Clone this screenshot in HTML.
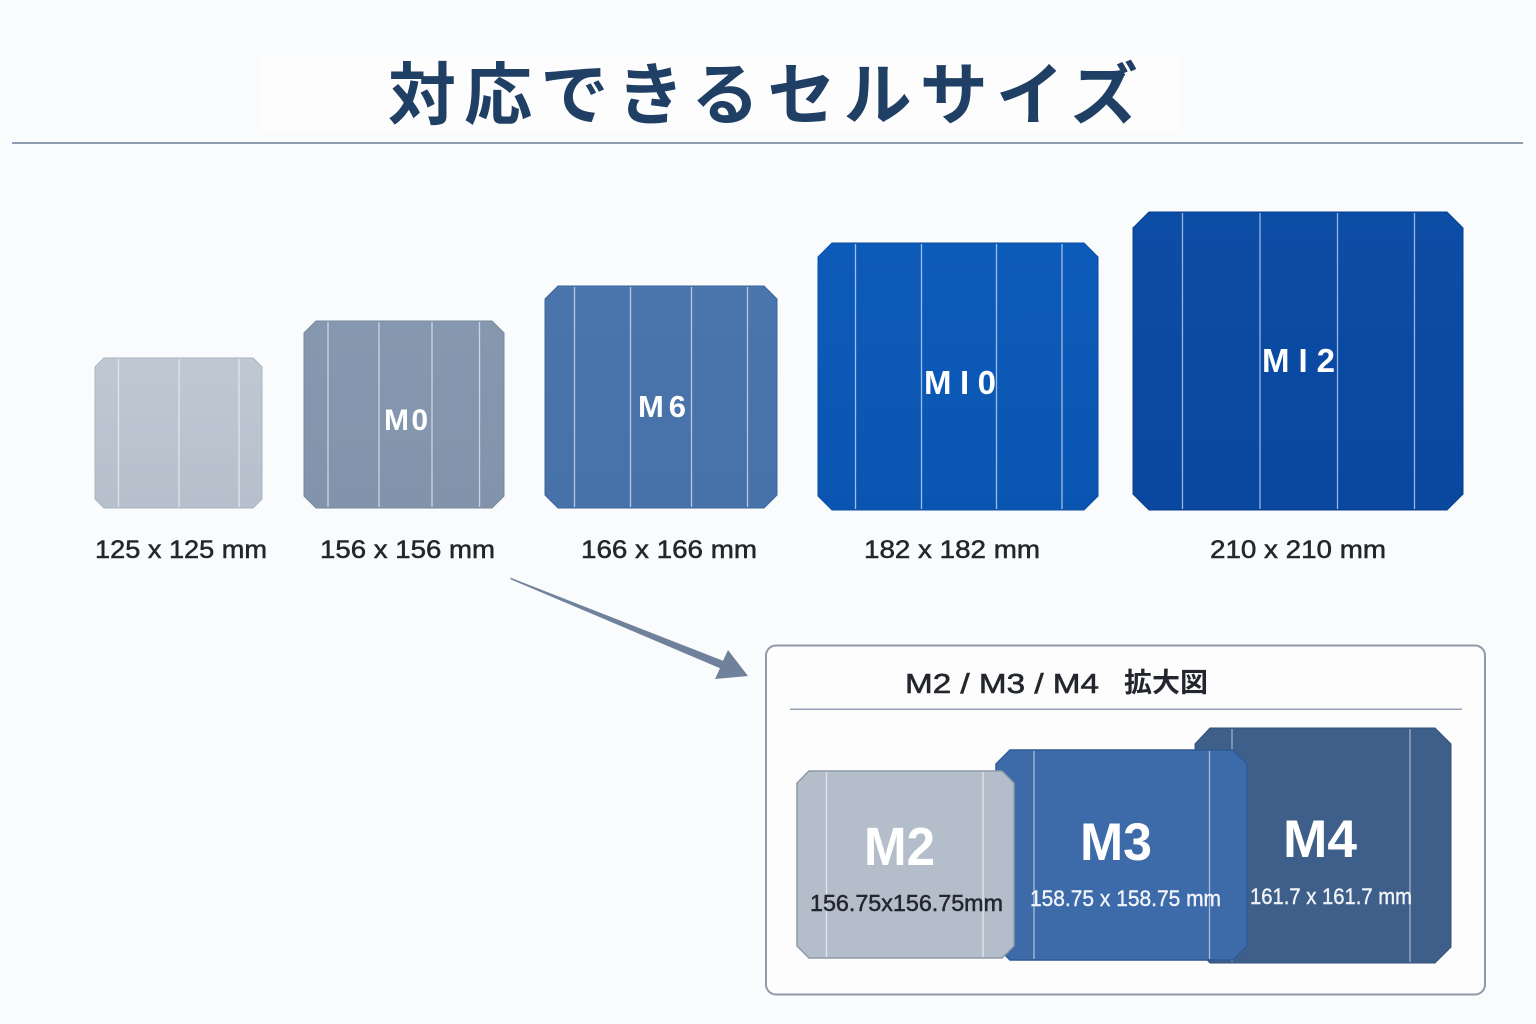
<!DOCTYPE html>
<html><head><meta charset="utf-8"><style>
html,body{margin:0;padding:0;background:#fafbfc;}
svg{display:block;}
</style></head><body>
<svg width="1536" height="1024" viewBox="0 0 1536 1024" xmlns="http://www.w3.org/2000/svg">
<defs>
<linearGradient id="g1" x1="0" y1="0" x2="0" y2="1"><stop offset="0" stop-color="#bfc8d3"/><stop offset="1" stop-color="#b6c0cc"/></linearGradient>
<linearGradient id="g2" x1="0" y1="0" x2="0" y2="1"><stop offset="0" stop-color="#8698af"/><stop offset="1" stop-color="#8194ab"/></linearGradient>
<linearGradient id="g3" x1="0" y1="0" x2="0" y2="1"><stop offset="0" stop-color="#4a75ac"/><stop offset="1" stop-color="#4671a9"/></linearGradient>
<linearGradient id="g4" x1="0" y1="0" x2="0" y2="1"><stop offset="0" stop-color="#0d5bb9"/><stop offset="1" stop-color="#0a55b2"/></linearGradient>
<linearGradient id="g5" x1="0" y1="0" x2="0" y2="1"><stop offset="0" stop-color="#0c4da6"/><stop offset="1" stop-color="#0a479f"/></linearGradient>
</defs>
<rect width="1536" height="1024" fill="#fafbfc"/>
<rect x="260" y="55" width="920" height="75" fill="#fdfdfd"/>

<!-- Title -->
<text x="388" y="119" textLength="750" lengthAdjust="spacing" font-family="'Liberation Sans','Noto Sans CJK JP',sans-serif" font-weight="bold" font-size="68" fill="#1f3f64">対応できるセルサイズ</text>
<rect x="12" y="142" width="1511" height="2" fill="#8e9cb2"/>

<!-- Cell 1 -->
<polygon points="104,358 253,358 262,367 262,499 253,508 104,508 95,499 95,367" fill="url(#g1)" stroke="#aab4c1" stroke-width="1"/>
<g stroke="#e6ebf1" stroke-width="1.3" opacity="0.85"><line x1="118.5" y1="359" x2="118.5" y2="507"/><line x1="179" y1="359" x2="179" y2="507"/><line x1="239" y1="359" x2="239" y2="507"/></g>

<!-- M0 -->
<polygon points="316,321 492,321 504,333 504,496 492,508 316,508 304,496 304,333" fill="url(#g2)" stroke="#76879d" stroke-width="1"/>
<g stroke="#d9e0ea" stroke-width="1.3" opacity="0.85"><line x1="328" y1="322" x2="328" y2="507"/><line x1="379" y1="322" x2="379" y2="507"/><line x1="432" y1="322" x2="432" y2="507"/><line x1="479.5" y1="322" x2="479.5" y2="507"/></g>
<text x="384" y="430" textLength="44" lengthAdjust="spacing" font-family="'Liberation Sans',sans-serif" font-weight="bold" font-size="30" fill="#ffffff">M0</text>

<!-- M6 -->
<polygon points="558,286 764,286 777,299 777,495 764,508 558,508 545,495 545,299" fill="url(#g3)" stroke="#3d669c" stroke-width="1"/>
<g stroke="#c9d6ea" stroke-width="1.3" opacity="0.85"><line x1="574.5" y1="287" x2="574.5" y2="507"/><line x1="630.5" y1="287" x2="630.5" y2="507"/><line x1="691.5" y1="287" x2="691.5" y2="507"/><line x1="747.5" y1="287" x2="747.5" y2="507"/></g>
<text x="638" y="417" textLength="48" lengthAdjust="spacing" font-family="'Liberation Sans',sans-serif" font-weight="bold" font-size="31" fill="#ffffff">M6</text>

<!-- M10 -->
<polygon points="832,243 1084,243 1098,257 1098,496 1084,510 832,510 818,496 818,257" fill="url(#g4)" stroke="#094ea5" stroke-width="1"/>
<g stroke="#b9cff0" stroke-width="1.3" opacity="0.85"><line x1="855.5" y1="244" x2="855.5" y2="509"/><line x1="921.5" y1="244" x2="921.5" y2="509"/><line x1="996.5" y1="244" x2="996.5" y2="509"/><line x1="1062" y1="244" x2="1062" y2="509"/></g>
<text x="924" y="394" textLength="72" lengthAdjust="spacing" font-family="'Liberation Sans',sans-serif" font-weight="bold" font-size="33" fill="#ffffff">M I 0</text>

<!-- M12 -->
<polygon points="1149,212 1447,212 1463,228 1463,494 1447,510 1149,510 1133,494 1133,228" fill="url(#g5)" stroke="#083f90" stroke-width="1"/>
<g stroke="#b4c7ea" stroke-width="1.3" opacity="0.85"><line x1="1182.5" y1="213" x2="1182.5" y2="509"/><line x1="1260" y1="213" x2="1260" y2="509"/><line x1="1337.5" y1="213" x2="1337.5" y2="509"/><line x1="1414.5" y1="213" x2="1414.5" y2="509"/></g>
<text x="1262" y="372" textLength="73" lengthAdjust="spacing" font-family="'Liberation Sans',sans-serif" font-weight="bold" font-size="33" fill="#ffffff">M I 2</text>

<!-- size labels -->
<g font-family="'Liberation Sans',sans-serif" font-size="25" fill="#22272d" stroke="#22272d" stroke-width="0.5">
<text x="95" y="558" textLength="172" lengthAdjust="spacingAndGlyphs">125 x 125 mm</text>
<text x="320" y="558" textLength="175" lengthAdjust="spacingAndGlyphs">156 x 156 mm</text>
<text x="581" y="558" textLength="176" lengthAdjust="spacingAndGlyphs">166 x 166 mm</text>
<text x="864" y="558" textLength="176" lengthAdjust="spacingAndGlyphs">182 x 182 mm</text>
<text x="1210" y="558" textLength="176" lengthAdjust="spacingAndGlyphs">210 x 210 mm</text>
</g>

<!-- arrow -->
<polygon points="510,577.5 723,660.8 728,650 748,676 715,679 720,668.2 511,579.5" fill="#6f819b"/>

<!-- enlarged box -->
<rect x="766" y="645.5" width="719" height="349" rx="10" ry="10" fill="#fdfdfe" stroke="#8f99a8" stroke-width="2"/>
<text x="905" y="693" textLength="194" lengthAdjust="spacingAndGlyphs" font-family="'Liberation Sans',sans-serif" font-size="28" fill="#23272d" stroke="#23272d" stroke-width="0.6">M2 / M3 / M4</text>
<text x="1124" y="692" textLength="84" lengthAdjust="spacingAndGlyphs" font-family="'Liberation Sans','Noto Sans CJK JP',sans-serif" font-weight="bold" font-size="27" fill="#23272d">拡大図</text>
<rect x="790" y="708.5" width="672" height="1.5" fill="#95a2b5"/>

<!-- M4 -->
<polygon points="1210,728 1435,728 1451,744 1451,947 1435,963 1210,963 1195,947 1195,744" fill="#3e5f89" stroke="#34527a" stroke-width="1"/>
<g stroke="#b5c3d6" stroke-width="1.3" opacity="0.8"><line x1="1232" y1="729" x2="1232" y2="962"/><line x1="1410" y1="729" x2="1410" y2="962"/></g>
<text x="1283" y="857" textLength="74" lengthAdjust="spacingAndGlyphs" font-family="'Liberation Sans',sans-serif" font-weight="bold" font-size="53" fill="#ffffff">M4</text>
<text x="1250" y="904" textLength="162" lengthAdjust="spacingAndGlyphs" font-family="'Liberation Sans',sans-serif" font-size="22" fill="#f1f4f8" stroke="#f1f4f8" stroke-width="0.4">161.7 x 161.7 mm</text>

<!-- M3 -->
<polygon points="1010,750 1233,750 1247,764 1247,946 1233,960 1010,960 996,946 996,764" fill="#3d6aa8" stroke="#2f5a93" stroke-width="1.5"/>
<g stroke="#c2d1e8" stroke-width="1.3" opacity="0.8"><line x1="1034" y1="751" x2="1034" y2="959"/><line x1="1209.5" y1="751" x2="1209.5" y2="959"/></g>
<text x="1080" y="860" textLength="72" lengthAdjust="spacingAndGlyphs" font-family="'Liberation Sans',sans-serif" font-weight="bold" font-size="53" fill="#ffffff">M3</text>
<text x="1030" y="906" textLength="191" lengthAdjust="spacingAndGlyphs" font-family="'Liberation Sans',sans-serif" font-size="22" fill="#f1f4f8" stroke="#f1f4f8" stroke-width="0.4">158.75 x 158.75 mm</text>

<!-- M2 -->
<polygon points="809,771 1002,771 1014,783 1014,946 1002,958 809,958 797,946 797,783" fill="#b4becb" stroke="#8e99a8" stroke-width="1.5"/>
<g stroke="#e8edf3" stroke-width="1.3" opacity="0.85"><line x1="826.5" y1="772" x2="826.5" y2="957"/><line x1="983" y1="772" x2="983" y2="957"/></g>
<text x="864" y="865" textLength="71" lengthAdjust="spacingAndGlyphs" font-family="'Liberation Sans',sans-serif" font-weight="bold" font-size="54" fill="#ffffff">M2</text>
<text x="810" y="911" textLength="193" lengthAdjust="spacingAndGlyphs" font-family="'Liberation Sans',sans-serif" font-size="23" fill="#23272d" stroke="#23272d" stroke-width="0.5">156.75x156.75mm</text>
</svg>
</body></html>
